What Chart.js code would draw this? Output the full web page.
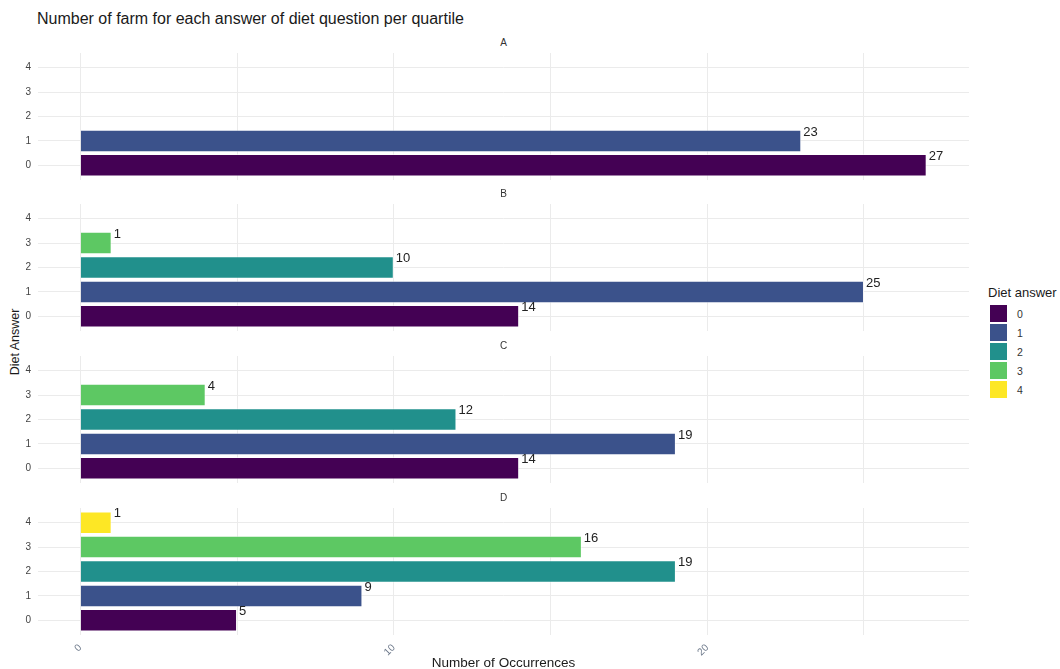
<!DOCTYPE html>
<html>
<head>
<meta charset="utf-8">
<script src="https://cdn.jsdelivr.net/npm/chart.js@4"></script>
<style>
  body { margin: 0; width: 1060px; height: 669px; background: #fff; position: relative; overflow: hidden;
         font-family: "Liberation Sans", Arial, sans-serif; }
  canvas { position: absolute; left: 0; }
  #title { position: absolute; left: 37px; top: 10px; font-size: 16px; color: #1a1a1a; white-space: nowrap; }
  .strip { position: absolute; left: 38px; width: 931px; text-align: center; font-size: 10px; color: #333; }
  #ytitle { position: absolute; left: 15px; top: 342px; font-size: 12.5px; color: #1a1a1a; white-space: nowrap;
            transform: translate(-50%, -50%) rotate(-90deg); }
  #legend { position: absolute; left: 988px; top: 285px; }
  #legend .lt { font-size: 13px; color: #1a1a1a; margin-bottom: 4px; white-space: nowrap; }
  #legend .row { height: 19px; display: flex; align-items: center; }
  #legend .sw { width: 17px; height: 17px; margin-left: 1px; border: 0.5px solid #fff; }
  #legend .lb { font-size: 10.5px; color: #333; margin-left: 9px; }
</style>
</head>
<body>
<div id="title">Number of farm for each answer of diet question per quartile</div>
<div id="ytitle">Diet Answer</div>
<div id="legend"></div>

<script>
// diet answers (y categories) and quartiles (facets)
const answers = ['0', '1', '2', '3', '4'];
const quartiles = ['A', 'B', 'C', 'D'];

// number of farms per answer, one entry per quartile A..D
const answer0 = [27, 14, 14, 5];
const answer1 = [23, 25, 19, 9];
const answer2 = [null, 10, 12, 19];
const answer3 = [null, 1, 4, 16];
const answer4 = [null, null, null, 1];

const xTicks = [0, 5, 10, 15, 20, 25];
const colours = ['#440154', '#3b528b', '#21908c', '#5dc863', '#fde725'];

const series = [answer0, answer1, answer2, answer3, answer4];
const panelTops = [53, 204, 356, 508];
const panelH = 127;
const pad = 20;
const xAxisH = 36;
const font = '"Liberation Sans", Arial, sans-serif';

// legend
const legend = document.getElementById('legend');
legend.innerHTML = '<div class="lt">Diet answer</div>' +
  answers.map((a, i) => `<div class="row"><div class="sw" style="background:${colours[i]}"></div><div class="lb">${a}</div></div>`).join('');

const valueLabels = {
  id: 'valueLabels',
  afterDatasetsDraw(chart) {
    const ctx = chart.ctx;
    const meta = chart.getDatasetMeta(0);
    const data = chart.data.datasets[0].data;
    ctx.save();
    ctx.font = '13px ' + font;
    ctx.fillStyle = '#222';
    ctx.textAlign = 'left';
    ctx.textBaseline = 'middle';
    meta.data.forEach((bar, i) => {
      ctx.fillText(String(data[i].x), bar.x + 2, bar.y - 9);
    });
    ctx.restore();
  }
};

quartiles.forEach((q, qi) => {
  const last = qi === quartiles.length - 1;

  const strip = document.createElement('div');
  strip.className = 'strip';
  strip.textContent = q;
  strip.style.top = (panelTops[qi] - 16) + 'px';
  document.body.appendChild(strip);

  const canvas = document.createElement('canvas');
  canvas.width = 969;
  canvas.height = last ? panelH + pad + xAxisH : panelH + 2 * pad;
  canvas.style.top = (panelTops[qi] - pad) + 'px';
  document.body.appendChild(canvas);

  const data = series.map((s, i) => ({ x: s[qi], y: i })).filter(d => d.x !== null);

  new Chart(canvas, {
    type: 'bar',
    data: {
      datasets: [{
        data: data,
        backgroundColor: c => colours[c.raw.y],
        borderColor: 'rgba(255,255,255,0.55)',
        borderWidth: 1,
        barPercentage: 0.92,
        categoryPercentage: 1
      }]
    },
    options: {
      indexAxis: 'y',
      responsive: false,
      animation: false,
      layout: { padding: { top: pad, bottom: last ? 0 : pad, left: 0, right: 0 } },
      plugins: { legend: { display: false }, tooltip: { enabled: false } },
      scales: {
        x: {
          type: 'linear',
          min: -1.35,
          max: 28.35,
          afterBuildTicks: s => { s.ticks = xTicks.map(v => ({ value: v })); },
          afterFit: s => { s.height = last ? xAxisH : 0; },
          grid: { color: '#ebebeb', drawTicks: false },
          border: { display: false },
          ticks: {
            display: last,
            autoSkip: false,
            minRotation: 45,
            maxRotation: 45,
            padding: 7,
            color: '#6a7688',
            font: { size: 10, family: font },
            callback: v => (v % 10 === 0 ? String(v) : '')
          },
          title: {
            display: last,
            text: 'Number of Occurrences',
            color: '#1a1a1a',
            font: { size: 13.5, family: font },
            padding: { top: 0, bottom: 0 }
          }
        },
        y: {
          type: 'linear',
          min: -0.6,
          max: 4.6,
          offset: false,
          afterBuildTicks: s => { s.ticks = answers.map((a, i) => ({ value: i })); },
          afterFit: s => { s.width = 38; },
          grid: { color: '#ebebeb', drawTicks: false, offset: false },
          border: { display: false },
          ticks: {
            padding: 7,
            color: '#444',
            font: { size: 10, family: font },
            callback: v => answers[v]
          }
        }
      }
    },
    plugins: [valueLabels]
  });
});
</script>
</body>
</html>
